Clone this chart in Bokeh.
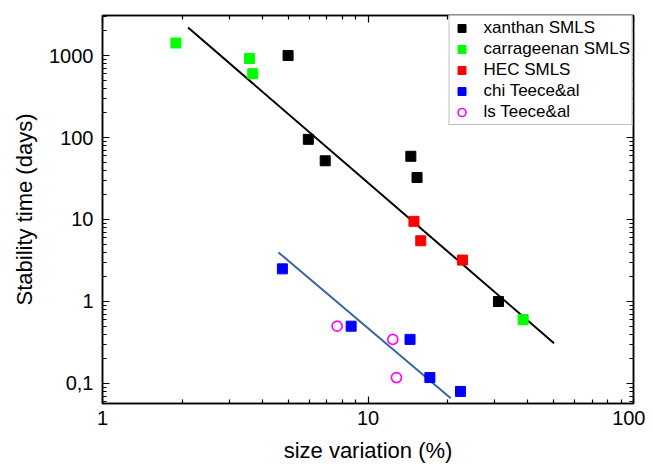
from bokeh.plotting import figure
from bokeh.models import LogAxis, FixedTicker, CustomJSTickFormatter, Legend, LegendItem, Range1d
from bokeh.embed import file_html
from bokeh.resources import INLINE

# ---- data ----
xanthan_x = [5.0, 5.96, 6.9, 14.5, 15.3, 31.0]
xanthan_y = [1000, 95, 52, 59, 32.5, 1.0]
carr_x = [1.89, 3.58, 3.68, 38.4]
carr_y = [1420, 920, 600, 0.6]
hec_x = [14.9, 15.8, 22.7]
hec_y = [9.5, 5.5, 3.2]
chi_x = [4.76, 8.64, 14.4, 17.1, 22.3]
chi_y = [2.5, 0.5, 0.345, 0.118, 0.08]
ls_x = [7.65, 12.4, 12.8]
ls_y = [0.5, 0.345, 0.118]
fit_black_x = [2.1, 50.2]
fit_black_y = [2190, 0.31]
fit_blue_x = [4.6, 20.5]
fit_blue_y = [3.97, 0.066]

x_major = [1, 10, 100]
x_minor = [2, 3, 4, 5, 6, 7, 8, 9, 20, 30, 40, 50, 60, 70, 80, 90]
y_major = [0.1, 1, 10, 100, 1000]
y_minor = [0.06, 0.07, 0.08, 0.09, 0.2, 0.3, 0.4, 0.5, 0.6, 0.7, 0.8, 0.9,
           2, 3, 4, 5, 6, 7, 8, 9, 20, 30, 40, 50, 60, 70, 80, 90,
           200, 300, 400, 500, 600, 700, 800, 900, 2000, 3000]

FONT = "Liberation Sans"

p = figure(width=645, height=465, x_axis_type="log", y_axis_type="log",
           x_range=Range1d(1, 100), y_range=Range1d(0.057, 3076),
           output_backend="svg", toolbar_location=None,
           min_border_left=102, min_border_top=15, min_border_right=12, min_border_bottom=57)
p.xgrid.visible = False
p.ygrid.visible = False
p.outline_line_color = "black"
p.outline_line_width = 1.5

fmt = CustomJSTickFormatter(code="return String(tick).replace('.', ',');")
blank = CustomJSTickFormatter(code="return '';")

def style_axis(ax, major, minor, labels=True):
    ax.ticker = FixedTicker(ticks=major, minor_ticks=minor)
    ax.formatter = fmt if labels else blank
    ax.axis_line_color = "black"
    ax.axis_line_width = 1.5
    ax.major_tick_in = 7
    ax.major_tick_out = 0
    ax.minor_tick_in = 4
    ax.minor_tick_out = 0
    ax.major_tick_line_width = 1.2
    ax.minor_tick_line_width = 1.2
    ax.major_label_text_font = FONT
    ax.major_label_text_font_size = "20px" if labels else "0px"
    ax.major_label_text_color = "black"
    ax.axis_label_text_font = FONT
    ax.axis_label_text_font_size = "22px"
    ax.axis_label_text_font_style = "normal"
    ax.axis_label_text_color = "black"

style_axis(p.xaxis[0], x_major, x_minor)
style_axis(p.yaxis[0], y_major, y_minor)
p.xaxis[0].axis_label = "size variation (%)"
p.yaxis[0].axis_label = "Stability time (days)"
p.xaxis[0].major_label_standoff = 7
p.xaxis[0].axis_label_standoff = 10
p.yaxis[0].major_label_standoff = 9
p.yaxis[0].axis_label_standoff = 9

top = LogAxis()
style_axis(top, x_major, x_minor, labels=False)
top.major_label_standoff = 0
p.add_layout(top, "above")
right = LogAxis()
style_axis(right, y_major, y_minor, labels=False)
right.major_label_standoff = 0
p.add_layout(right, "right")

p.line(fit_black_x, fit_black_y, line_color="black", line_width=2)
p.line(fit_blue_x, fit_blue_y, line_color="#3A64A0", line_width=2)

r1 = p.scatter(xanthan_x, xanthan_y, marker="square", size=10, fill_color="black", line_color="black")
r2 = p.scatter(carr_x, carr_y, marker="square", size=10, fill_color="#00FF00", line_color="#00FF00")
r3 = p.scatter(hec_x, hec_y, marker="square", size=10, fill_color="#FF0000", line_color="#FF0000")
r4 = p.scatter(chi_x, chi_y, marker="square", size=10, fill_color="#0000FF", line_color="#0000FF")
r5 = p.scatter(ls_x, ls_y, marker="circle", size=10, fill_color=None, line_color="#FF00FF", line_width=1.6)

legend = Legend(items=[
    LegendItem(label="xanthan SMLS", renderers=[r1]),
    LegendItem(label="carrageenan SMLS", renderers=[r2]),
    LegendItem(label="HEC SMLS", renderers=[r3]),
    LegendItem(label="chi Teece&al", renderers=[r4]),
    LegendItem(label="ls Teece&al", renderers=[r5]),
], location="top_right")
legend.label_text_font = FONT
legend.label_text_font_size = "17px"
legend.label_text_color = "black"
legend.glyph_width = 20
legend.glyph_height = 20
legend.label_height = 20
legend.label_standoff = 12
legend.spacing = 1
legend.padding = 2
legend.margin = 0
legend.border_line_color = "#808080"
legend.border_line_width = 1.2
legend.background_fill_alpha = 1
p.add_layout(legend)

open("out.html", "w").write(file_html(p, INLINE))
